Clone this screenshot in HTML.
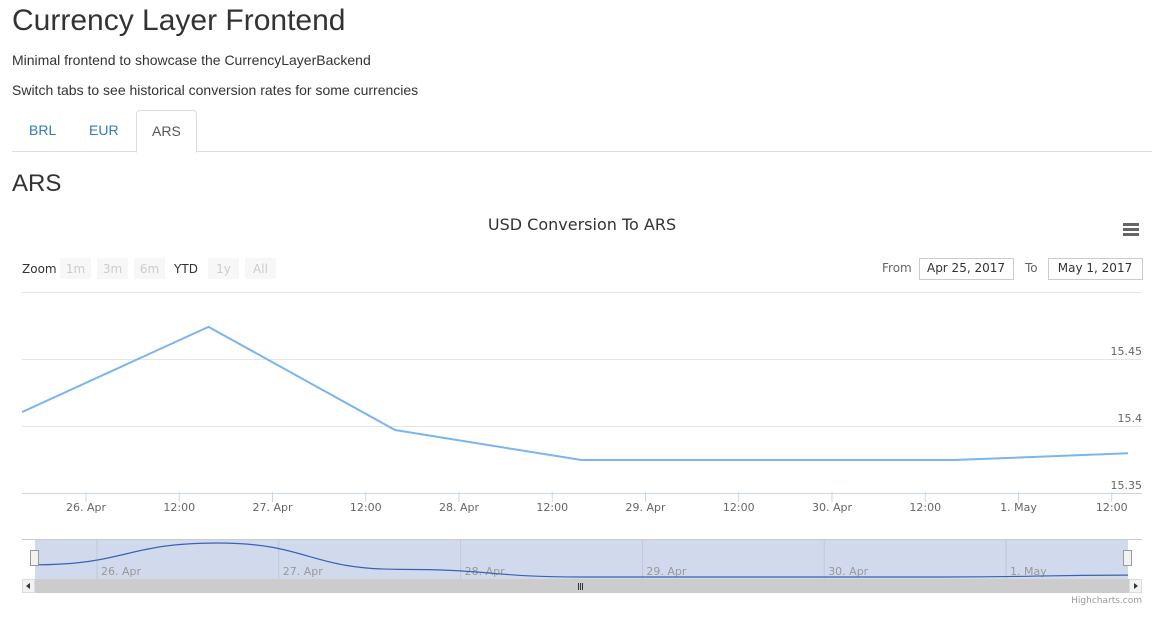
<!DOCTYPE html>
<html><head><meta charset="utf-8"><style>
body{margin:0;width:1176px;height:633px;overflow:hidden;background:#fff;font-family:"Liberation Sans",sans-serif;color:#333}
h1{font-weight:400;font-size:30px;margin:0;position:absolute;left:12px;top:4px}
.p{position:absolute;left:12px;font-size:14px}
.tabs{position:absolute;left:12px;top:151px;width:1140px;border-top:1px solid #ddd}
.tab{position:absolute;top:110px;height:41px;line-height:41px;font-size:14px;color:#337ab7;padding:0 16px}
.tab.act{color:#555;border:1px solid #ddd;border-bottom:1px solid #fff;border-radius:4px 4px 0 0;background:#fff;height:41px}
h2{position:absolute;left:12px;top:170px;margin:0;font-weight:400;font-size:24px}
svg text{font-family:"DejaVu Sans","Liberation Sans",sans-serif}
</style></head><body>
<h1>Currency Layer Frontend</h1>
<div class="p" style="top:52px">Minimal frontend to showcase the CurrencyLayerBackend</div>
<div class="p" style="top:82px">Switch tabs to see historical conversion rates for some currencies</div>
<div class="tabs"></div>
<div class="tab" style="left:13px">BRL</div>
<div class="tab" style="left:73px">EUR</div>
<div class="tab act" style="left:136px;padding:0 15px">ARS</div>
<h2>ARS</h2>
<svg id="c" width="1176" height="633" style="position:absolute;left:0;top:0">
<text x="582" y="230" text-anchor="middle" font-size="16" fill="#333">USD Conversion To ARS</text>
<g fill="#666"><rect x="1123" y="223" width="16" height="3"/><rect x="1123" y="228" width="16" height="3"/><rect x="1123" y="233" width="16" height="3"/></g>
<text x="22" y="273" font-size="12" fill="#333">Zoom</text>
<g id="zb"></g>
<text x="882" y="272" font-size="12" fill="#666">From</text>
<rect x="919.5" y="258.5" width="94" height="21" fill="#fff" stroke="#ccc"/>
<text x="966" y="272" font-size="12" text-anchor="middle" fill="#333">Apr 25, 2017</text>
<text x="1025" y="272" font-size="12" fill="#666">To</text>
<rect x="1048.5" y="258.5" width="94" height="21" fill="#fff" stroke="#ccc"/>
<text x="1095" y="272" font-size="12" text-anchor="middle" fill="#333">May 1, 2017</text>
<g id="grid"></g><g id="xax"></g><g id="ser"></g><g id="nav"></g>
<text x="1142" y="603" font-size="9" text-anchor="end" fill="#999">Highcharts.com</text>
</svg>
<script>
const days=[0,1,2,3,4,5,6];
const values=[15.4104,15.474,15.397,15.3746,15.3746,15.3746,15.380];
const yTicks=[15.35,15.4,15.45,15.5];
const xLabels=["26. Apr","12:00","27. Apr","12:00","28. Apr","12:00","29. Apr","12:00","30. Apr","12:00","1. May","12:00"];
const navLabels=["26. Apr","27. Apr","28. Apr","29. Apr","30. Apr","1. May"];
const zoomBtns=["1m","3m","6m","YTD","1y","All"];
const NS="http://www.w3.org/2000/svg";
function el(t,a,p){const e=document.createElementNS(NS,t);for(const k in a)e.setAttribute(k,a[k]);document.getElementById(p).appendChild(e);return e;}
const X=d=>22+d*186.5, Y=v=>426-(v-15.4)*1340;
// zoom buttons
const bx=[60,97,134,169,208,245];
zoomBtns.forEach((b,i)=>{const w=b==="YTD"?34:31;
const r=el('rect',{x:bx[i],y:258,width:w,height:21,fill:b==="YTD"?"#fff":"#f7f7f7"},'zb');


const t=el('text',{x:bx[i]+w/2,y:273,'text-anchor':'middle','font-size':12,fill:b==="YTD"?"#333":"#ccc"},'zb');t.textContent=b;});
// grid
yTicks.forEach(v=>{const g=el('line',{x1:22,x2:1142,y1:Y(v)+.5,y2:Y(v)+.5,stroke:v===15.35?"#ccd6eb":"#e6e6e6"},'grid');


if(v<15.5){const t=el('text',{x:1142,y:Y(v)-4,'text-anchor':'end','font-size':11,fill:'#666'},'grid');t.textContent=String(v);}});
// x axis
xLabels.forEach((l,i)=>{const x=86+i*93.25;
el('line',{x1:x,x2:x,y1:492,y2:502,stroke:'#ccd6eb'},'xax');
const t=el('text',{x:x,y:511,'text-anchor':'middle','font-size':11,fill:'#666'},'xax');t.textContent=l;

});
// series
el('clipPath',{id:'cp'},'ser').appendChild(Object.assign(document.createElementNS(NS,'rect'),{}));
document.querySelector('#cp rect').setAttribute('x',22);document.querySelector('#cp rect').setAttribute('y',280);
document.querySelector('#cp rect').setAttribute('width',1106);document.querySelector('#cp rect').setAttribute('height',220);
const line=el('path',{d:days.map((d,i)=>(i?'L':'M')+X(d)+','+Y(values[i])).join(''),fill:'none',stroke:'#7cb5ec','stroke-width':2,'clip-path':'url(#cp)'},'ser');


// navigator
const nx0=35,nx1=1128,ny0=540,ny1=579;
el('rect',{x:nx0,y:ny0,width:nx1-nx0,height:ny1-ny0,fill:'rgba(102,133,194,0.3)'},'nav');
el('line',{x1:22,x2:1142,y1:ny0-.5,y2:ny0-.5,stroke:'#ccc'},'nav');
navLabels.forEach((l,i)=>{const x=97+i*181.8;el('line',{x1:x,x2:x,y1:ny0,y2:ny1,stroke:'#c0c8d8'},'nav');
const t=el('text',{x:x+4,y:575,'font-size':11,fill:'#999'},'nav');t.textContent=l;});
const NX=d=>nx0+d*(nx1-nx0)/6, NY=v=>577-(v-15.3746)*(34/0.0994);
let d='M'+NX(0)+','+NY(values[0]);
for(let i=1;i<days.length;i++){const xa=NX(days[i-1]),xb=NX(days[i]),m=(xb-xa)/2;d+=`C${xa+m},${NY(values[i-1])} ${xb-m},${NY(values[i])} ${xb},${NY(values[i])}`;}
const nl=el('path',{d:d,fill:'none',stroke:'#3b62b0','stroke-width':1.2},'nav');


[nx0,nx1].forEach(x=>{const h=el('rect',{x:x-4.5,y:550.5,width:8,height:15,fill:'#f2f2f2',stroke:'#999'},'nav');

});
const sb=el('rect',{x:22,y:579,width:1120,height:14,fill:'#cccccc'},'nav');


el('rect',{x:22.5,y:579.5,width:12,height:13,fill:'#f2f2f2',stroke:'#ddd'},'nav');
el('rect',{x:1129.5,y:579.5,width:12,height:13,fill:'#f2f2f2',stroke:'#ddd'},'nav');
el('path',{d:'M30,583 L26,586 L30,589Z',fill:'#333'},'nav');
el('path',{d:'M1134,583 L1138,586 L1134,589Z',fill:'#333'},'nav');
[578,580,582].forEach(x=>el('line',{x1:x+.5,x2:x+.5,y1:583,y2:590,stroke:'#333'},'nav'));
</script>
</body></html>
